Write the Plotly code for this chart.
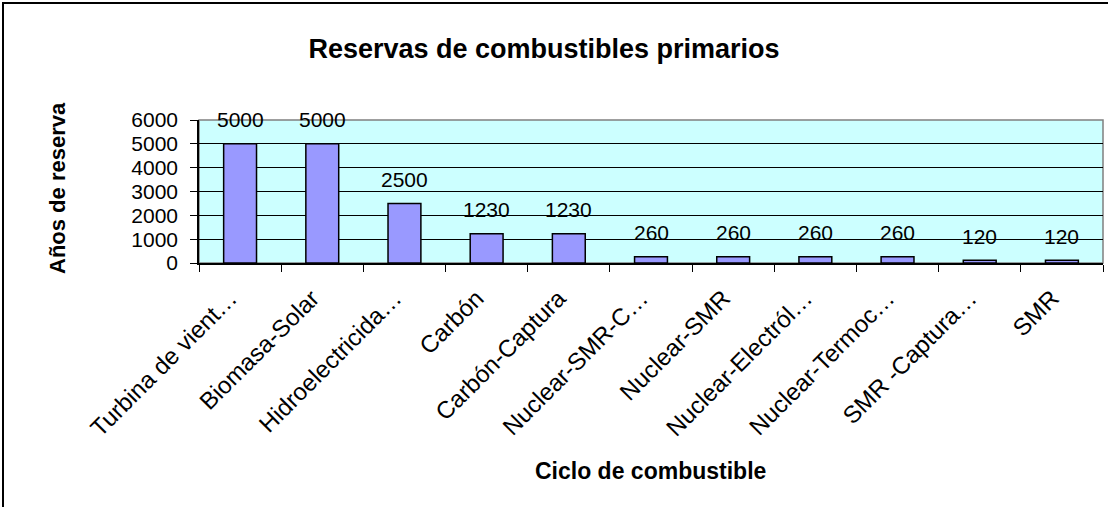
import plotly.graph_objects as go

ciclos = [
    "Turbina de vient…", "Biomasa-Solar", "Hidroelectricida…", "Carbón",
    "Carbón-Captura", "Nuclear-SMR-C…", "Nuclear-SMR", "Nuclear-Electról…",
    "Nuclear-Termoc…", "SMR -Captura…", "SMR",
]
anos_reserva = [5000, 5000, 2500, 1230, 1230, 260, 260, 260, 260, 120, 120]
y_ticks = [0, 1000, 2000, 3000, 4000, 5000, 6000]

_FONT = "Liberation Sans, Arial, sans-serif"
W, H = 1108, 507
L, R, T, B = 199, 5, 120, 244  # plot area margins in px
PW, PH = W - L - R, H - T - B


def px_x(px):
    return (px - L) / PW


def px_y(py):
    return (H - B - py) / PH


fig = go.Figure(go.Bar(
    x=ciclos, y=anos_reserva,
    width=0.4,
    marker=dict(color="#9999FF", line=dict(color="#000000", width=1.5)),
    showlegend=False,
    hoverinfo="x+y",
))

# Data labels above bars
for c, v in zip(ciclos, anos_reserva):
    fig.add_annotation(
        x=c, y=v, text=str(v), showarrow=False,
        yanchor="middle", yshift=24,
        font=dict(family=_FONT, size=21, color="#000000"),
    )

# Axis titles
fig.add_annotation(
    xref="paper", yref="paper", x=px_x(57), y=px_y(188),
    xanchor="center", yanchor="middle",
    text="<b>Años de reserva</b>", textangle=-90, showarrow=False,
    font=dict(family=_FONT, size=22, color="#000000"),
)
fig.add_annotation(
    xref="paper", yref="paper", x=px_x(650), y=px_y(471),
    xanchor="center", yanchor="middle",
    text="<b>Ciclo de combustible</b>", showarrow=False,
    font=dict(family=_FONT, size=23, color="#000000"),
)

# Outer chart border
fig.add_shape(
    type="rect", xref="paper", yref="paper",
    x0=px_x(3), x1=px_x(1112), y0=px_y(512), y1=px_y(3),
    line=dict(color="#000000", width=2), layer="below",
)
# Plot area border (grey top/right)
fig.add_shape(
    type="rect", xref="paper", yref="paper",
    x0=0, x1=1, y0=0, y1=1,
    line=dict(color="#808080", width=1.5), layer="below",
)

fig.update_layout(
    width=W, height=H,
    margin=dict(l=L, r=R, t=T, b=B, autoexpand=False),
    paper_bgcolor="#FFFFFF",
    plot_bgcolor="#CCFFFF",
    font=dict(family=_FONT, color="#000000", size=21),
    title=dict(
        text="<b>Reservas de combustibles primarios</b>",
        x=544 / W, xanchor="center",
        y=1 - 49 / H, yanchor="middle", yref="container",
        font=dict(family=_FONT, size=27, color="#000000"),
    ),
    bargap=0.6,
)
fig.update_xaxes(
    type="category", tickangle=-45, tickson="boundaries",
    ticks="outside", ticklen=7, tickcolor="#000000",
    ticklabelstandoff=10, ticklabelshift=-10,
    showline=True, linecolor="#000000", linewidth=1.5,
    showgrid=False, tickfont=dict(size=24), automargin=False,
)
fig.update_yaxes(
    range=[0, 6000], tickvals=y_ticks,
    ticks="outside", ticklen=7, tickcolor="#000000",
    ticklabelstandoff=8,
    showline=True, linecolor="#000000", linewidth=1.5,
    gridcolor="#000000", gridwidth=1, zeroline=False,
    tickfont=dict(size=21), automargin=False,
)

# drop the default page margin so the figure sits at the window origin
fig.write_html(
    "out.html",
    config={"displayModeBar": False},
    post_script="document.body.style.margin='0';",
)
